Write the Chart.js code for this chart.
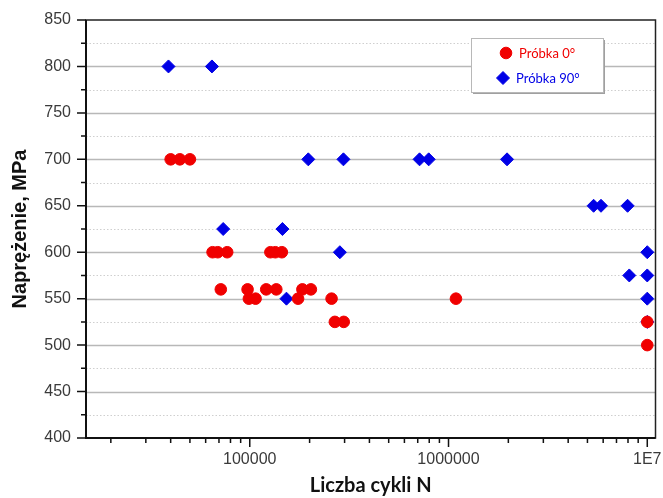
<!DOCTYPE html>
<html>
<head>
<meta charset="utf-8">
<script src="https://cdn.jsdelivr.net/npm/chart.js@4.4.0/dist/chart.umd.min.js"></script>
<style>
  body { margin: 0; background: #fff; }
</style>
</head>
<body>
<div style="width: 663px; height: 498px;">
  <canvas id="wykres" width="663" height="498"></canvas>
</div>
<script>
// Próbka 0° - liczba cykli do zniszczenia i naprężenie
const cykle0 = [40000, 44500, 50000, 65000, 69000, 77000, 127000, 134500, 145000,
                71500, 97500, 121000, 136000, 184000, 203000,
                99000, 107000, 175000, 258000, 1090000,
                268000, 297000, 10000000, 10000000];
const naprez0 = [700, 700, 700, 600, 600, 600, 600, 600, 600,
                 560, 560, 560, 560, 560, 560,
                 550, 550, 550, 550, 550,
                 525, 525, 525, 500];

// Próbka 90°
const cykle90 = [39000, 64500, 197000, 296000, 715000, 795000, 1970000,
                 5370000, 5850000, 7960000, 73500, 146000, 284000, 10000000,
                 8120000, 10000000, 153000, 10000000, 10000000];
const naprez90 = [800, 800, 700, 700, 700, 700, 700,
                  650, 650, 650, 625, 625, 600, 600,
                  575, 575, 550, 550, 525];

const xTicks = [100000, 1000000, 10000000];
const xTickLabels = ["100000", "1000000", "1E7"];
const yMin = 400, yMax = 850, yStep = 50;

function punkty(xs, ys) {
  return xs.map((x, i) => ({ x: x, y: ys[i] }));
}

// siatka pozioma: ciągła co 50, kropkowana pomiędzy
const siatka = {
  id: "siatka",
  beforeDatasetsDraw(chart) {
    const { ctx, chartArea: a, scales: { y } } = chart;
    ctx.save();
    for (let v = yMin + yStep / 2; v < yMax; v += yStep / 2) {
      const py = Math.round(y.getPixelForValue(v)) + 0.5;
      ctx.beginPath();
      if (v % yStep === 0) {
        ctx.setLineDash([]);
        ctx.strokeStyle = "#b8b8b8";
        ctx.lineWidth = 1.3;
      } else {
        ctx.setLineDash([1.5, 2]);
        ctx.strokeStyle = "#cfcfcf";
        ctx.lineWidth = 1;
      }
      ctx.moveTo(a.left, py);
      ctx.lineTo(a.right, py);
      ctx.stroke();
    }
    ctx.restore();
  }
};

// ramka i znaczniki osi
const ramka = {
  id: "ramka",
  afterDatasetsDraw(chart) {
    const { ctx, chartArea: a, scales: { x, y } } = chart;
    ctx.save();
    ctx.strokeStyle = "#222";
    ctx.lineWidth = 1.5;
    ctx.strokeRect(a.left, a.top, a.right - a.left, a.bottom - a.top);
    ctx.lineWidth = 2;
    ctx.strokeStyle = "#111";
    ctx.beginPath();
    ctx.moveTo(a.left, a.top);
    ctx.lineTo(a.left, a.bottom);
    ctx.lineTo(a.right, a.bottom);
    ctx.stroke();

    ctx.lineWidth = 1.5;
    ctx.beginPath();
    for (let v = yMin; v <= yMax; v += yStep / 2) {
      const py = y.getPixelForValue(v);
      const len = v % yStep === 0 ? 9 : 5;
      ctx.moveTo(a.left, py);
      ctx.lineTo(a.left - len, py);
    }
    for (let d = 4; d <= 7; d++) {
      for (let m = 1; m <= 9; m++) {
        const v = m * Math.pow(10, d);
        if (v < x.min || v > x.max) continue;
        const px = x.getPixelForValue(v);
        const len = m === 1 ? 9 : 5;
        ctx.moveTo(px, a.bottom);
        ctx.lineTo(px, a.bottom + len);
      }
    }
    ctx.stroke();
    ctx.restore();
  }
};

// legenda w ramce wewnątrz wykresu
const legenda = {
  id: "legenda",
  afterDraw(chart) {
    const ctx = chart.ctx;
    const bx = 471, by = 38, bw = 132, bh = 54;
    ctx.save();
    ctx.fillStyle = "#a0a0a0";
    ctx.fillRect(bx + 2, by + 2, bw, bh);
    ctx.fillStyle = "#fff";
    ctx.fillRect(bx, by, bw, bh);
    ctx.strokeStyle = "#b8b8b8";
    ctx.lineWidth = 1;
    ctx.strokeRect(bx + 0.5, by + 0.5, bw, bh);

    const rows = [
      { mx: 506, tx: 519, y: 53 },
      { mx: 503, tx: 516, y: 78 }
    ];
    ctx.font = "13px Lato";
    ctx.textBaseline = "middle";
    chart.data.datasets.forEach((ds, i) => {
      const r = rows[i];
      ctx.fillStyle = ds.backgroundColor;
      ctx.strokeStyle = ds.borderColor;
      Chart.helpers.drawPoint(ctx, {
        pointStyle: ds.pointStyle,
        radius: ds.pointRadius,
        borderWidth: 1
      }, r.mx, r.y);
      ctx.fillStyle = ds.backgroundColor;
      ctx.fillText(ds.label, r.tx, r.y + 1);
    });
    ctx.restore();
  }
};

const ctx = document.getElementById("wykres").getContext("2d");
const wykres = new Chart(ctx, {
  type: "scatter",
  data: {
    datasets: [
      {
        label: "Próbka 0°",
        data: punkty(cykle0, naprez0),
        backgroundColor: "#f00000",
        borderColor: "#f00000",
        pointStyle: "circle",
        pointRadius: 5.8,
        pointHoverRadius: 5.8
      },
      {
        label: "Próbka 90°",
        data: punkty(cykle90, naprez90),
        backgroundColor: "#0000e6",
        borderColor: "#0000e6",
        pointStyle: "rectRot",
        pointRadius: 6.5,
        pointHoverRadius: 6.5
      }
    ]
  },
  options: {
    responsive: false,
    animation: false,
    layout: { padding: { top: 20, right: 6, left: 0, bottom: 0 } },
    plugins: {
      legend: { display: false },
      tooltip: { enabled: false }
    },
    scales: {
      x: {
        type: "logarithmic",
        min: 15000,
        max: 11000000,
        grid: { display: false, drawTicks: false },
        border: { display: false },
        afterBuildTicks: (s) => { s.ticks = xTicks.map(v => ({ value: v })); },
        afterFit: (s) => {
          s.height = 60;
          s.paddingLeft = 0;
          s.paddingRight = 0;
        },
        ticks: {
          autoSkip: false,
          maxRotation: 0,
          padding: 12,
          color: "#3a3a3a",
          font: { family: "Liberation Sans", size: 16 },
          callback: (v) => {
            const i = xTicks.indexOf(v);
            return i < 0 ? "" : xTickLabels[i];
          }
        },
        title: {
          display: true,
          text: "Liczba cykli N",
          color: "#111",
          font: { family: "Lato", size: 20, weight: "bold" },
          padding: { top: 2, bottom: 0 }
        }
      },
      y: {
        min: yMin,
        max: yMax,
        grid: { display: false, drawTicks: false },
        border: { display: false },
        afterFit: (s) => {
          s.width = 86;
          s.paddingTop = 0;
          s.paddingBottom = 0;
        },
        ticks: {
          stepSize: yStep,
          padding: 15,
          color: "#3a3a3a",
          font: { family: "Liberation Sans", size: 16 }
        },
        title: {
          display: true,
          text: "Naprężenie, MPa",
          color: "#111",
          font: { family: "Liberation Sans", size: 20, weight: "bold" },
          padding: { top: 8, bottom: 0 }
        }
      }
    }
  },
  plugins: [siatka, ramka, legenda]
});
</script>
</body>
</html>
